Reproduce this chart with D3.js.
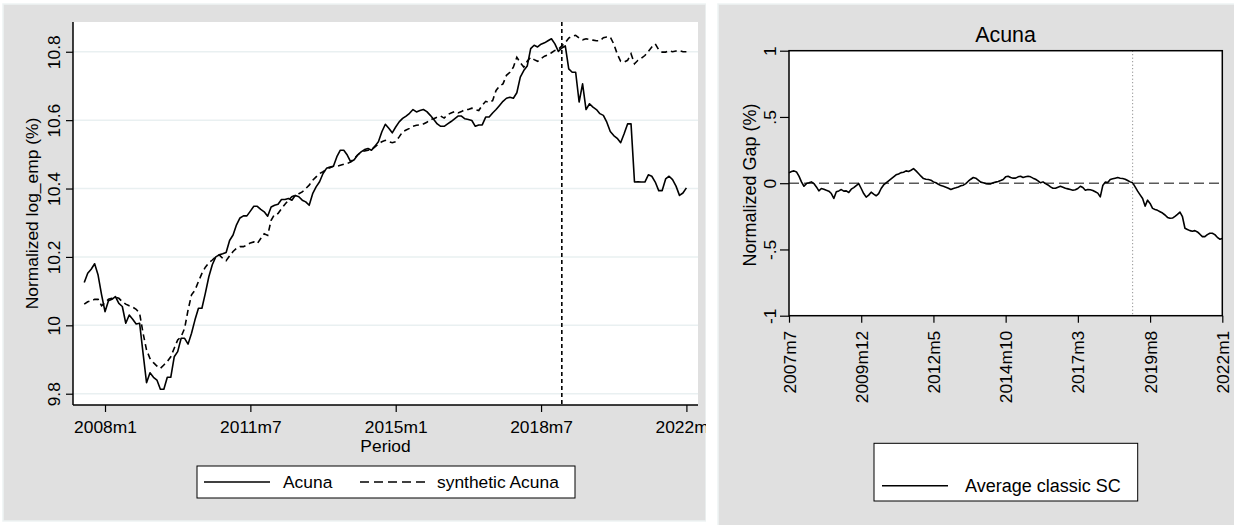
<!DOCTYPE html>
<html>
<head>
<meta charset="utf-8">
<script src="https://cdn.jsdelivr.net/npm/d3@7/dist/d3.min.js"></script>
<style>
  html, body { margin: 0; padding: 0; background: #ffffff; }
  svg { display: block; font-family: "Liberation Sans", Arial, sans-serif; }
</style>
</head>
<body>
<svg id="chart" width="1234" height="525"></svg>
<script>
// ---------------- DATA ----------------
const startYear = 2007, startMonth = 7;   // first period: 2007m7
const treatmentPeriod = "2019m1";

// Left panel: Acuna vs synthetic Acuna (monthly, 2007m7 .. 2022m1)
const acuna = [
  10.125,10.152,10.164,10.180,10.147,10.090,10.040,10.072,10.076,10.084,10.064,10.055,
  10.006,10.030,10.018,10.004,10.006,9.918,9.832,9.861,9.848,9.840,9.813,9.813,
  9.848,9.848,9.908,9.923,9.962,9.962,9.945,9.977,10.016,10.050,10.050,10.094,
  10.142,10.177,10.200,10.206,10.209,10.213,10.248,10.264,10.294,10.314,10.320,10.320,
  10.334,10.348,10.348,10.339,10.332,10.319,10.346,10.351,10.354,10.368,10.368,10.371,
  10.366,10.380,10.376,10.366,10.361,10.351,10.385,10.405,10.420,10.444,10.459,10.463,
  10.465,10.493,10.512,10.512,10.498,10.478,10.484,10.498,10.507,10.514,10.517,10.512,
  10.524,10.537,10.566,10.588,10.576,10.563,10.580,10.595,10.605,10.612,10.620,10.631,
  10.624,10.628,10.631,10.625,10.614,10.602,10.589,10.582,10.582,10.589,10.596,10.604,
  10.612,10.612,10.604,10.602,10.599,10.582,10.586,10.586,10.609,10.609,10.621,10.631,
  10.643,10.655,10.664,10.667,10.664,10.680,10.726,10.745,10.758,10.809,10.819,10.814,
  10.822,10.826,10.832,10.838,10.823,10.801,10.811,10.817,10.750,10.740,10.740,10.653,
  10.706,10.631,10.648,10.638,10.631,10.619,10.614,10.594,10.567,10.555,10.547,10.534,
  10.560,10.589,10.589,10.419,10.420,10.419,10.419,10.440,10.436,10.419,10.394,10.394,
  10.428,10.436,10.426,10.407,10.380,10.387,10.402
];
const synthetic = [
  10.062,10.069,10.072,10.076,10.076,10.057,10.066,10.076,10.079,10.082,10.079,10.069,
  10.062,10.057,10.053,10.047,10.035,9.977,9.928,9.903,9.891,9.881,9.874,9.884,
  9.894,9.908,9.933,9.957,9.967,9.991,10.045,10.089,10.103,10.128,10.152,10.170,
  10.183,10.191,10.200,10.206,10.196,10.189,10.203,10.216,10.225,10.230,10.230,10.235,
  10.241,10.244,10.239,10.254,10.268,10.263,10.307,10.325,10.327,10.341,10.354,10.366,
  10.376,10.380,10.385,10.390,10.400,10.410,10.424,10.434,10.444,10.449,10.456,10.461,
  10.465,10.465,10.468,10.471,10.473,10.478,10.488,10.498,10.507,10.510,10.512,10.514,
  10.522,10.530,10.537,10.541,10.537,10.534,10.537,10.551,10.566,10.571,10.576,10.582,
  10.585,10.586,10.589,10.594,10.602,10.604,10.609,10.612,10.606,10.616,10.621,10.625,
  10.621,10.625,10.631,10.631,10.635,10.631,10.628,10.643,10.655,10.652,10.657,10.687,
  10.700,10.706,10.731,10.740,10.755,10.784,10.768,10.755,10.772,10.784,10.777,10.772,
  10.780,10.787,10.791,10.797,10.804,10.807,10.817,10.826,10.840,10.845,10.848,10.840,
  10.835,10.838,10.836,10.834,10.832,10.832,10.841,10.843,10.843,10.823,10.794,10.772,
  10.770,10.775,10.794,10.765,10.775,10.781,10.789,10.801,10.814,10.823,10.806,10.799,
  10.799,10.803,10.800,10.802,10.803,10.800,10.800
];
// Right panel: normalized gap (Average classic SC)
const gap = [
  0.078,0.088,0.093,0.085,0.053,0.010,-0.023,-0.003,0.003,0.010,-0.003,-0.028,
  -0.058,-0.040,-0.045,-0.053,-0.060,-0.078,-0.115,-0.065,-0.058,-0.048,-0.060,-0.058,
  -0.070,-0.045,-0.033,-0.018,-0.003,-0.040,-0.078,-0.105,-0.090,-0.068,-0.083,-0.095,
  -0.078,-0.040,-0.013,0.003,0.018,0.033,0.048,0.063,0.070,0.080,0.083,0.093,
  0.088,0.098,0.110,0.093,0.073,0.053,0.035,0.030,0.028,0.023,0.010,0.003,
  -0.008,-0.018,-0.023,-0.030,-0.038,-0.048,-0.040,-0.035,-0.028,-0.020,-0.015,-0.003,
  0.015,0.030,0.043,0.038,0.023,0.008,0.003,-0.003,-0.005,-0.005,0.003,0.008,
  0.013,0.020,0.028,0.048,0.053,0.043,0.038,0.038,0.048,0.053,0.043,0.048,
  0.053,0.048,0.038,0.030,0.018,0.003,0.010,-0.003,-0.013,-0.028,-0.038,-0.038,
  -0.030,-0.023,-0.030,-0.038,-0.043,-0.048,-0.053,-0.050,-0.040,-0.023,-0.033,-0.053,
  -0.048,-0.050,-0.055,-0.065,-0.075,-0.103,-0.018,0.008,0.005,0.028,0.033,0.038,
  0.043,0.038,0.035,0.030,0.020,0.010,0.003,-0.028,-0.060,-0.088,-0.115,-0.173,
  -0.128,-0.153,-0.190,-0.198,-0.205,-0.215,-0.225,-0.240,-0.258,-0.265,-0.263,-0.250,
  -0.235,-0.218,-0.253,-0.340,-0.350,-0.358,-0.363,-0.358,-0.368,-0.385,-0.403,-0.403,
  -0.388,-0.378,-0.378,-0.388,-0.408,-0.423,-0.418
];

const leftXTicks = ["2008m1","2011m7","2015m1","2018m7","2022m1"];
const leftYTicks = [9.8, 10, 10.2, 10.4, 10.6, 10.8];
const leftYLabels = ["9.8","10","10.2","10.4","10.6","10.8"];
const rightXTicks = ["2007m7","2009m12","2012m5","2014m10","2017m3","2019m8","2022m1"];
const rightYTicks = [-1, -0.5, 0, 0.5, 1];
const rightYLabels = ["-1","-.5","0",".5","1"];

const seriesNames = ["Acuna", "synthetic Acuna"];
const gapName = "Average classic SC";

// ---------------- HELPERS ----------------
// month index: months since 2007m1 (0 = 2007m1)
function periodIndex(p) {
  const m = p.match(/(\d{4})m(\d{1,2})/);
  return (+m[1] - 2007) * 12 + (+m[2] - 1);
}
const startIdx = (startYear - 2007) * 12 + (startMonth - 1);
const periods = acuna.map((_, i) => startIdx + i);
const treatIdx = periodIndex(treatmentPeriod);

const svg = d3.select("#chart");
const FONT = 17.4;

// ---------------- LEFT PANEL ----------------
const L = svg.append("g");
svg.append("clipPath").attr("id", "clipL").append("rect")
  .attr("x", 0).attr("y", 0).attr("width", 706).attr("height", 525);
L.attr("clip-path", "url(#clipL)");
L.append("rect").attr("x", 3).attr("y", 4).attr("width", 703).attr("height", 517)
  .attr("fill", "#e0e0e0").attr("stroke", "#eef3f3").attr("stroke-width", 1.5);

const lx = d3.scaleLinear().domain([2.75, 183.35]).range([73, 698]);
const ly = d3.scaleLinear().domain([9.767, 10.887]).range([405, 22]);

L.append("rect").attr("x", 73).attr("y", 22).attr("width", 698 - 73).attr("height", 405 - 22)
  .attr("fill", "#ffffff");

// gridlines
L.append("g").selectAll("line").data(leftYTicks).join("line")
  .attr("x1", 73).attr("x2", 698)
  .attr("y1", d => ly(d)).attr("y2", d => ly(d))
  .attr("stroke", "#e9f0f1").attr("stroke-width", 1.5);

// axes
const lyAxis = L.append("g").attr("transform", "translate(73,0)")
  .call(d3.axisLeft(ly).tickValues(leftYTicks).tickSize(7).tickSizeOuter(0)
    .tickFormat((d, i) => leftYLabels[i]));
lyAxis.select(".domain").attr("stroke", "#000").attr("stroke-width", 1.5)
  .attr("d", `M0,${ly.range()[0]}V${ly.range()[1]}`);
lyAxis.selectAll(".tick line").attr("stroke", "#000").attr("stroke-width", 1.2);
lyAxis.selectAll(".tick text")
  .attr("x", null).attr("dy", null).attr("y", null)
  .attr("transform", "translate(-13,0) rotate(-90)")
  .attr("text-anchor", "middle").attr("fill", "#000")
  .style("font-size", FONT + "px").style("font-family", "Liberation Sans, Arial, sans-serif");

const lxAxis = L.append("g").attr("transform", "translate(0,405)")
  .call(d3.axisBottom(lx).tickValues(leftXTicks.map(periodIndex)).tickSize(7).tickSizeOuter(0)
    .tickFormat((d, i) => leftXTicks[i]));
lxAxis.select(".domain").attr("stroke", "#000").attr("stroke-width", 1.5)
  .attr("d", `M${lx.range()[0]},0H${lx.range()[1]}`);
lxAxis.selectAll(".tick line").attr("stroke", "#000").attr("stroke-width", 1.2);
lxAxis.selectAll(".tick text")
  .attr("y", 28).attr("dy", null).attr("fill", "#000")
  .style("font-size", FONT + "px").style("font-family", "Liberation Sans, Arial, sans-serif");

L.append("text").attr("x", 385.5).attr("y", 452).attr("text-anchor", "middle")
  .style("font-size", FONT + "px").text("Period");
L.append("text").attr("transform", "translate(38,213.5) rotate(-90)")
  .attr("text-anchor", "middle").style("font-size", FONT + "px").text("Normalized log_emp (%)");

// series
const lineL = (vals) => d3.line().x((d, i) => lx(periods[i])).y(d => ly(d))(vals);
L.append("path").attr("d", lineL(synthetic)).attr("fill", "none")
  .attr("stroke", "#000").attr("stroke-width", 1.6).attr("stroke-dasharray", "6,4");
L.append("path").attr("d", lineL(acuna)).attr("fill", "none")
  .attr("stroke", "#000").attr("stroke-width", 1.6).attr("stroke-linejoin", "round");

// treatment line
L.append("line").attr("x1", lx(treatIdx)).attr("x2", lx(treatIdx))
  .attr("y1", 22).attr("y2", 405)
  .attr("stroke", "#000").attr("stroke-width", 1.6).attr("stroke-dasharray", "4,3");

// legend
const lg = L.append("g");
lg.append("rect").attr("x", 197).attr("y", 466).attr("width", 378).attr("height", 32)
  .attr("fill", "#fff").attr("stroke", "#000").attr("stroke-width", 1);
lg.append("line").attr("x1", 204).attr("x2", 270).attr("y1", 482).attr("y2", 482)
  .attr("stroke", "#000").attr("stroke-width", 1.6);
lg.append("text").attr("x", 283).attr("y", 488).style("font-size", FONT + "px").text(seriesNames[0]);
lg.append("line").attr("x1", 360).attr("x2", 427).attr("y1", 482).attr("y2", 482)
  .attr("stroke", "#000").attr("stroke-width", 1.6).attr("stroke-dasharray", "9,5");
lg.append("text").attr("x", 437).attr("y", 488).style("font-size", FONT + "px").text(seriesNames[1]);

// ---------------- RIGHT PANEL ----------------
const R = svg.append("g");
R.append("rect").attr("x", 718).attr("y", 4).attr("width", 520).attr("height", 525)
  .attr("fill", "#e0e0e0").attr("stroke", "#eef3f3").attr("stroke-width", 1.5);

const rx = d3.scaleLinear().domain([periodIndex("2007m7"), periodIndex("2022m1")]).range([789, 1222.3]);
const ry = d3.scaleLinear().domain([-1, 1]).range([315.7, 50.7]);

R.append("rect").attr("x", 789).attr("y", 50.7).attr("width", 1222.3 - 789).attr("height", 315.7 - 50.7)
  .attr("fill", "#fff");

R.append("text").attr("x", 1005.6).attr("y", 41.7).attr("text-anchor", "middle")
  .style("font-size", "21.4px").text("Acuna");

// zero line
R.append("line").attr("x1", 789).attr("x2", 1222.3).attr("y1", ry(0)).attr("y2", ry(0))
  .attr("stroke", "#5a5a5a").attr("stroke-width", 1.6).attr("stroke-dasharray", "10,5");
// treatment line (dotted)
R.append("line").attr("x1", rx(treatIdx)).attr("x2", rx(treatIdx))
  .attr("y1", 50.7).attr("y2", 315.7)
  .attr("stroke", "#7a7a7a").attr("stroke-width", 1).attr("stroke-dasharray", "1,2.5");

// gap series
R.append("path").attr("d", d3.line().x((d, i) => rx(periods[i])).y(d => ry(d))(gap))
  .attr("fill", "none").attr("stroke", "#000").attr("stroke-width", 1.6)
  .attr("stroke-linejoin", "round");

// frame
R.append("rect").attr("x", 789).attr("y", 50.7).attr("width", 1222.3 - 789).attr("height", 315.7 - 50.7)
  .attr("fill", "none").attr("stroke", "#000").attr("stroke-width", 1.5);

const ryAxis = R.append("g").attr("transform", "translate(789,0)")
  .call(d3.axisLeft(ry).tickValues(rightYTicks).tickSize(9).tickSizeOuter(0)
    .tickFormat((d, i) => rightYLabels[i]));
ryAxis.select(".domain").remove();
ryAxis.selectAll(".tick line").attr("stroke", "#000").attr("stroke-width", 1.2);
ryAxis.selectAll(".tick text")
  .attr("x", null).attr("dy", null).attr("y", null)
  .attr("transform", "translate(-13,0) rotate(-90)")
  .attr("text-anchor", "middle").attr("fill", "#000")
  .style("font-size", FONT + "px").style("font-family", "Liberation Sans, Arial, sans-serif");

const rxAxis = R.append("g").attr("transform", "translate(0,315.7)")
  .call(d3.axisBottom(rx).tickValues(rightXTicks.map(periodIndex)).tickSize(7).tickSizeOuter(0)
    .tickFormat((d, i) => rightXTicks[i]));
rxAxis.select(".domain").remove();
rxAxis.selectAll(".tick line").attr("stroke", "#000").attr("stroke-width", 1.2);
rxAxis.selectAll(".tick text")
  .attr("x", null).attr("dy", null).attr("y", null)
  .attr("transform", "translate(6,15) rotate(-90)")
  .attr("text-anchor", "end").attr("fill", "#000")
  .style("font-size", FONT + "px").style("font-family", "Liberation Sans, Arial, sans-serif");

R.append("text").attr("transform", "translate(756,185) rotate(-90)")
  .attr("text-anchor", "middle").style("font-size", "18px").text("Normalized Gap (%)");

// legend
const rg = R.append("g");
rg.append("rect").attr("x", 874).attr("y", 443.3).attr("width", 263.7).attr("height", 57.7)
  .attr("fill", "#fff").attr("stroke", "#000").attr("stroke-width", 1);
rg.append("line").attr("x1", 882).attr("x2", 948).attr("y1", 485.7).attr("y2", 485.7)
  .attr("stroke", "#000").attr("stroke-width", 1.6);
rg.append("text").attr("x", 965).attr("y", 491.7).style("font-size", "18px").text(gapName);
</script>
</body>
</html>
